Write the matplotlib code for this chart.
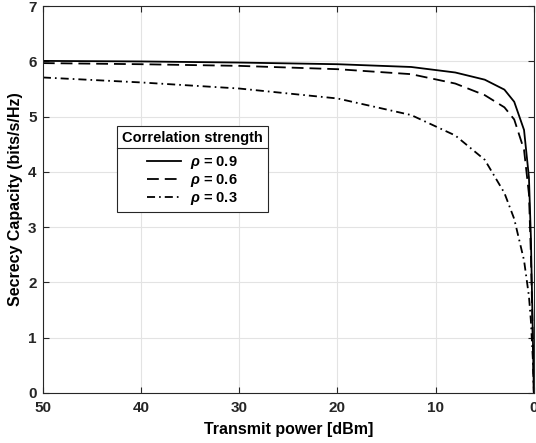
# secrecy_capacity.py
# Secrecy capacity vs. transmit power for three correlation strengths.

import matplotlib
matplotlib.use("Agg")
import matplotlib.pyplot as plt
from matplotlib.lines import Line2D

plt.rcParams['font.family'] = 'Liberation Sans'
plt.rcParams['font.weight'] = 'bold'
plt.rcParams['mathtext.fontset'] = 'custom'
plt.rcParams['mathtext.it'] = 'Liberation Sans:italic:bold'
plt.rcParams['mathtext.rm'] = 'Liberation Sans:bold'
plt.rcParams['lines.scale_dashes'] = False

# transmit power [dBm]
power = [50, 40, 30, 20, 12.5, 8, 5, 3, 2, 1, 0.5, 0.3, 0.1, 0]

# secrecy capacity (bits/s/Hz)
cap_09 = [6.01, 6.00, 5.98, 5.95, 5.90, 5.80, 5.67, 5.49, 5.27, 4.76, 3.90, 2.80, 1.00, 0.0]
cap_06 = [5.97, 5.95, 5.92, 5.86, 5.77, 5.60, 5.39, 5.17, 4.95, 4.40, 3.60, 2.50, 0.90, 0.0]
cap_03 = [5.71, 5.62, 5.51, 5.33, 5.03, 4.66, 4.22, 3.62, 3.15, 2.40, 1.75, 1.30, 0.60, 0.0]

labels = [r'$\rho$ = 0.9', r'$\rho$ = 0.6', r'$\rho$ = 0.3']
styles = ['-', (0, (8.5, 4.3)), (0, (5.8, 2.9, 1.2, 2.9))]


def plot_capacity():
    fig = plt.figure(figsize=(5.36, 4.43), dpi=100)
    ax = fig.add_axes([0.080, 0.113, 0.916, 0.873])

    for vals, ls, lab in zip([cap_09, cap_06, cap_03], styles, labels):
        ax.plot(power, vals, color='black', linestyle=ls, linewidth=1.3, label=lab)

    ax.set_xlim(50, 0)
    ax.set_ylim(0, 7)
    ax.set_xticks([50, 40, 30, 20, 10, 0])
    ax.set_yticks(range(0, 8))
    ax.grid(True, color='#e3e3e3', linewidth=0.8)
    ax.set_axisbelow(True)

    for sp in ax.spines.values():
        sp.set_color('#262626')
        sp.set_linewidth(0.8)
    ax.tick_params(direction='in', top=True, right=True, labelsize=11,
                   colors='#262626', length=4, width=0.8)
    ax.tick_params(axis='x', pad=5.5)
    ax.tick_params(axis='y', pad=4.5)

    ax.set_xlabel("Transmit power [dBm]", fontsize=11.5, fontweight='bold', labelpad=5)
    ax.set_ylabel("Secrecy Capacity (bits/s/Hz)", fontsize=11.5, fontweight='bold', labelpad=4)

    leg = ax.legend(title="Correlation strength", loc='upper left',
                    bbox_to_anchor=(0.151, 0.690), fontsize=10.5,
                    title_fontproperties={'weight': 'bold', 'size': 10.5},
                    fancybox=False, framealpha=1, edgecolor='#262626',
                    handlelength=2.3, handletextpad=0.65, labelspacing=0.05,
                    borderpad=0.35, borderaxespad=0)
    leg.get_frame().set_linewidth(0.8)
    leg._legend_box.sep = 6.5

    # separator line under the legend title
    fig.canvas.draw()
    renderer = fig.canvas.get_renderer()
    lb = leg.get_window_extent(renderer)
    tb = leg.get_title().get_window_extent(renderer)
    y_sep = tb.y0 - 3
    inv = fig.transFigure.inverted()
    x0, y0 = inv.transform((lb.x0, y_sep))
    x1, _ = inv.transform((lb.x1, y_sep))
    fig.add_artist(Line2D([x0, x1], [y0, y0], transform=fig.transFigure,
                          color='#262626', linewidth=0.8, zorder=10))

    fig.savefig("out.png", dpi=100)


if __name__ == "__main__":
    plot_capacity()
